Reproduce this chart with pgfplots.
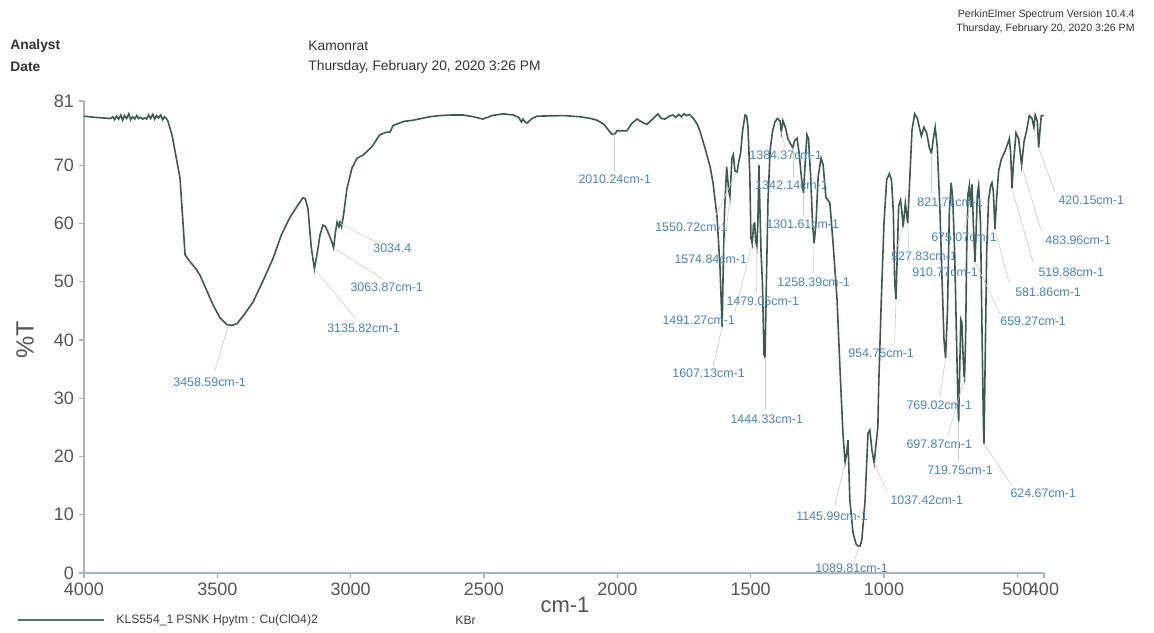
\documentclass[border=0pt]{standalone}
\usepackage{fontspec}
\setmainfont{Liberation Sans}
\usepackage{pgfplots}
\pgfplotsset{compat=1.18}
\definecolor{trace}{HTML}{3B5A50}
\definecolor{lblblue}{HTML}{4A86B9}
\definecolor{axisgray}{HTML}{A8B4C8}
\definecolor{ticktext}{HTML}{555555}
\definecolor{leadgray}{HTML}{C8D0D8}
\tikzset{lbl/.style={font=\fontsize{6.2}{7}\selectfont, text=lblblue, inner sep=0pt, anchor=west},
  leader/.style={draw=leadgray, line width=0.3pt}}
% peak, end of leader, label position, text
\newcommand{\pk}[7]{%
  \draw[leader] (axis cs:#1,#2) -- (axis cs:#3,#4);
  \node[lbl] at (axis cs:#5,#6) {#7};}
\begin{document}
\begin{tikzpicture}
\useasboundingbox (-42pt,-29.5pt) rectangle (535pt,286.5pt);
\begin{axis}[
  at={(0,0)}, anchor=south west, scale only axis,
  width=480pt, height=236pt,
  xmin=400, xmax=4000, ymin=0, ymax=81, x dir=reverse,
  axis lines=left, axis line style={-, draw=axisgray, line width=0.6pt},
  tick style={draw=axisgray, line width=0.6pt}, tick align=outside,
  major tick length=2.5pt,
  xtick={4000,3500,3000,2500,2000,1500,1000,500,400},
  ytick={0,10,20,30,40,50,60,70,81},
  tick label style={font=\fontsize{9}{10}\selectfont, text=ticktext},
  /pgf/number format/assume math mode=true,
  /pgf/number format/set thousands separator={},
  xticklabel style={yshift=1pt},
  yticklabel style={xshift=1pt},
  clip=false,
]
\addplot[trace, line width=0.8pt] coordinates {
(4000,78.4) (3960,78.2) (3930,78.1) (3900,78.0) (3892,78.3) (3885,77.8) (3878,78.4)
(3870,77.9) (3862,78.6) (3855,77.7) (3848,78.5) (3840,78.0) (3832,78.8) (3825,77.8)
(3818,78.3) (3810,77.9) (3802,78.5) (3795,78.0) (3788,78.2) (3780,77.9) (3772,78.1)
(3765,77.9) (3758,78.6) (3750,78.0) (3742,78.7) (3735,77.9) (3728,78.5) (3720,78.1)
(3712,78.6) (3705,77.8) (3698,78.3) (3690,77.9) (3685,77.5) (3670,75.2) (3655,71.5)
(3640,67.8) (3630,61) (3621,54.6) (3602,53.4) (3580,52.2) (3565,51.1) (3540,48.5)
(3516,46) (3490,43.8) (3464,42.6) (3445,42.5) (3426,42.8) (3400,44.3) (3366,46.5)
(3330,50) (3291,54) (3260,58) (3228,61) (3200,63) (3179,64.4) (3170,64.2) (3160,62.5)
(3148,56) (3136,52.2) (3125,55) (3115,58) (3104,59.7) (3095,59.5) (3085,58.5)
(3072,57) (3064,55.8) (3057,58.5) (3051,60.2) (3044,59.4) (3040,60.2) (3034,59.4)
(3025,62) (3014,66) (2995,69.5) (2976,71.2) (2954,71.7) (2935,72.5) (2916,73.4)
(2900,74.6) (2890,75.2) (2870,75.6) (2852,75.7) (2841,76.8) (2800,77.5) (2766,77.7)
(2703,78.3) (2665,78.5) (2620,78.6) (2579,78.6) (2540,78.3) (2504,77.9) (2470,78.5)
(2429,78.8) (2390,78.6) (2370,78.2) (2360,77.4) (2354,77.9) (2348,77.5) (2339,77.2)
(2320,78.0) (2301,78.4) (2200,78.5) (2140,78.3) (2100,78.0) (2076,77.7) (2050,77.0)
(2030,75.8) (2020,75.3) (2010,75.3) (2001,75.9) (1985,75.9) (1964,75.9) (1945,77.2)
(1926,77.9) (1905,77.3) (1889,77.0) (1870,77.8) (1848,78.8) (1835,78.0) (1821,77.9)
(1805,78.4) (1791,78.6) (1780,78.2) (1770,78.7) (1760,78.3) (1750,78.8) (1739,78.5)
(1730,78.7) (1716,78.1) (1700,77.0) (1690,75.8) (1671,72.9) (1652,69.7) (1641,66.9)
(1626,61.1) (1615,52.5) (1607,42.2) (1603,52) (1598,62) (1590,69.7) (1583,66)
(1578,64.5) (1570,71.2) (1565,71.8) (1559,69) (1551,68.8) (1545,70.5) (1538,72)
(1530,76) (1521,78.6) (1515,78.4) (1510,76.5) (1503,68) (1499,57.5) (1494,56.5)
(1489,59.8) (1485,60) (1481,57) (1477,56) (1473,60) (1469,70) (1465,62) (1461,55)
(1456,50) (1450,37.5) (1446,37) (1441,50) (1435,64) (1427,72.6) (1418,75.8)
(1409,77.4) (1400,78.0) (1390,77.6) (1385,75.7) (1379,77.6) (1370,76.5) (1360,74.5)
(1350,73.6) (1342,73.0) (1335,74.2) (1326,74.6) (1318,72) (1310,68) (1302,65.2)
(1296,70) (1289,75.2) (1283,74.5) (1275,68) (1268,60) (1262,56.6) (1255,60)
(1247,68) (1236,71.2) (1228,70) (1218,64.5) (1203,63.5) (1190,56) (1176,46.9)
(1165,35) (1154,24) (1146,19) (1140,20.5) (1135,22.8) (1128,12.5) (1116,6.9)
(1105,5) (1097,4.6) (1090,4.6) (1083,5.7) (1071,12.5) (1060,24) (1053,24.5)
(1045,21) (1037,18.9) (1030,22) (1023,25) (1020,32) (1010,47) (1000,60) (990,67.5)
(980,68.5) (972,67.5) (965,62) (960,50) (955,47) (950,55) (945,63) (938,64)
(933,62) (928,59.4) (920,63.5) (911,60) (903,68) (895,76) (885,78.8) (875,78)
(860,75) (850,76.5) (840,75.5) (830,73) (822,72) (815,74.5) (808,76.5) (800,73)
(790,62) (782,50) (775,40) (769,36.9) (762,45) (755,62) (748,67) (742,64) (735,55)
(728,40) (722,28) (720,26) (716,35) (712,43.5) (708,43) (704,38) (700,34) (698,33.5)
(694,40) (690,55) (685,65) (680,66.5) (675,62.8) (670,66.7) (665,60) (659,53.4)
(655,58) (650,65) (645,66.5) (638,60) (632,40) (627,25) (625,22.2) (621,35) (615,55)
(608,64) (600,66.5) (595,67) (590,65.5) (584,59) (578,64) (570,69) (560,71) (545,72.5)
(530,74.5) (525,72) (520,66) (515,70) (505,75.5) (495,74.5) (484,70) (475,74)
(465,76) (455,78.5) (445,78) (438,76.5) (433,78.6) (425,77.5) (420,73) (415,76)
(410,78.5) (400,78.5)
};
\pk{3458.59}{42.5}{3510}{34.6}{3666}{32.8}{3458.59cm-1}
\pk{3135.82}{52.2}{2980}{43.6}{3089}{42.0}{3135.82cm-1}
\pk{3063.87}{55.8}{2880}{50.4}{3002}{49.1}{3063.87cm-1}
\pk{3040}{60}{2905}{56.8}{2916}{55.8}{3034.4}
\pk{2010.24}{75.3}{2010.24}{69}{2147}{67.6}{2010.24cm-1}
\pk{1553}{68.8}{1640}{60.5}{1859}{59.4}{1550.72cm-1}
\pk{1578}{64.5}{1600}{55.3}{1787}{53.9}{1574.84cm-1}
\pk{1494}{56.5}{1560}{44.8}{1832}{43.4}{1491.27cm-1}
\pk{1607}{42.2}{1640}{35.6}{1795}{34.2}{1607.13cm-1}
\pk{1477}{56}{1478}{48.3}{1592}{46.7}{1479.05cm-1}
\pk{1446}{37}{1446}{28}{1577}{26.4}{1444.33cm-1}
\pk{1385}{75.7}{1370}{73}{1506}{71.7}{1384.37cm-1}
\pk{1342}{73}{1342}{68}{1484}{66.6}{1342.14cm-1}
\pk{1302}{65.2}{1302}{61.5}{1442}{59.9}{1301.61cm-1}
\pk{1262}{56.6}{1265}{51.5}{1401}{49.9}{1258.39cm-1}
\pk{1146}{19}{1185}{11.3}{1330}{9.8}{1145.99cm-1}
\pk{1093}{4.6}{1110}{2.3}{1259}{0.9}{1089.81cm-1}
\pk{1037}{18.9}{990}{14}{977}{12.5}{1037.42cm-1}
\pk{955}{47}{960}{39.3}{1135}{37.8}{954.75cm-1}
\pk{928}{59.4}{950}{56}{974}{54.4}{927.83cm-1}
\pk{911}{60}{905}{53.2}{895}{51.7}{910.77cm-1}
\pk{822}{72}{822}{65.2}{876}{63.7}{821.71cm-1}
\pk{675}{62.8}{700}{59.2}{824}{57.7}{675.07cm-1}
\pk{769}{36.9}{790}{30.3}{917}{28.8}{769.02cm-1}
\pk{698}{33.5}{760}{23.6}{917}{22.1}{697.87cm-1}
\pk{720}{26}{720}{19.2}{839}{17.7}{719.75cm-1}
\pk{625}{22.2}{520}{15}{527}{13.7}{624.67cm-1}
\pk{659}{53.4}{565}{44.5}{565}{43.2}{659.27cm-1}
\pk{584}{59}{530}{49.7}{509}{48.2}{581.86cm-1}
\pk{520}{66}{440}{53.2}{422}{51.7}{519.88cm-1}
\pk{484}{70}{410}{58.6}{396}{57.1}{483.96cm-1}
\pk{420}{73}{360}{65.5}{347}{64}{420.15cm-1}
\end{axis}
% header
\node[anchor=west, inner sep=0pt, font=\fontsize{6.9}{8}\selectfont\bfseries, text=black!80] at (-37pt,263.5pt) {Analyst};
\node[anchor=west, inner sep=0pt, font=\fontsize{6.9}{8}\selectfont\bfseries, text=black!80] at (-37pt,253pt) {Date};
\node[anchor=west, inner sep=0pt, font=\fontsize{6.9}{8}\selectfont, text=black!80] at (112pt,263.5pt) {Kamonrat};
\node[anchor=west, inner sep=0pt, font=\fontsize{6.9}{8}\selectfont, text=black!80] at (112pt,253pt) {Thursday, February 20, 2020 3:26 PM};
\node[anchor=east, inner sep=0pt, font=\fontsize{5.3}{6}\selectfont, text=black!80] at (525.5pt,279pt) {PerkinElmer Spectrum Version 10.4.4};
\node[anchor=east, inner sep=0pt, font=\fontsize{5.3}{6}\selectfont, text=black!80] at (525.5pt,272pt) {Thursday, February 20, 2020 3:26 PM};
% axis titles
\node[inner sep=0pt, font=\fontsize{11}{12}\selectfont, text=ticktext] at (240.5pt,-16pt) {cm-1};
\node[inner sep=0pt, rotate=90, font=\fontsize{12.5}{13}\selectfont, text=ticktext] at (-29.5pt,116.5pt) {\%T};
% legend
\draw[trace!85, line width=1.1pt] (-33pt,-23.5pt) -- (10pt,-23.5pt);
\node[anchor=west, inner sep=0pt, font=\fontsize{6.1}{7}\selectfont, text=black!75] at (16pt,-23.5pt) {KLS554\_1};
\node[anchor=west, inner sep=0pt, font=\fontsize{6.1}{7}\selectfont, text=black!75] at (46pt,-23.5pt) {PSNK Hpytm : Cu(ClO4)2};
\node[anchor=west, inner sep=0pt, font=\fontsize{6.1}{7}\selectfont, text=black!75] at (185.5pt,-23.5pt) {KBr};
\end{tikzpicture}
\end{document}
